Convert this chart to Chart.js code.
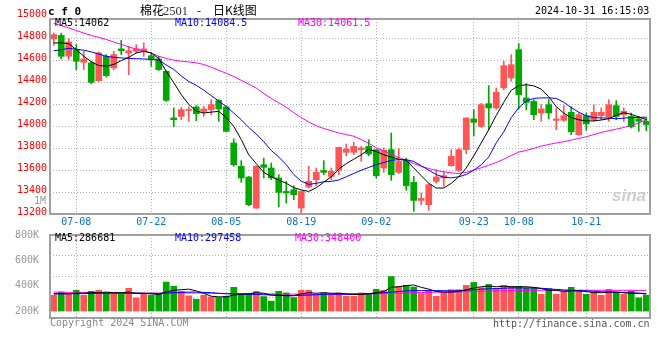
<!DOCTYPE html>
<html><head><meta charset="utf-8">
<script src="https://cdn.jsdelivr.net/npm/chart.js@4/dist/chart.umd.min.js"></script>
<style>
html,body{margin:0;padding:0;background:#fff;}
#wrap{position:relative;width:660px;height:360px;overflow:hidden;font-family:"DejaVu Sans Mono",monospace;font-size:10px;}
canvas{position:absolute;left:0;}
.t{position:absolute;white-space:pre;line-height:12px;}
.cj{font-family:'Noto Sans CJK SC',sans-serif;font-size:12px;line-height:14px;color:#000;top:3px;}
</style></head><body>
<div id="wrap">
<canvas id="price" width="660" height="226" style="top:0"></canvas>
<canvas id="vol" width="660" height="108" style="top:226px"></canvas>
<div class="t" style="left:48px;top:6px;font-weight:bold;font-size:11px;color:#000">c f 0</div>
<div class="t cj" style="left:140px">棉花</div>
<div class="t" style="left:163px;top:4px;font-family:'Liberation Serif',serif;font-size:12.5px;line-height:14px;color:#333">2501</div>
<div class="t cj" style="left:197px">-</div>
<div class="t cj" style="left:213px">日K线图</div>
<div class="t" style="left:535px;top:5px;color:#000">2024-10-31 16:15:03</div>
<div class="t" style="left:55px;top:17px;color:#000">MA5:14062</div>
<div class="t" style="left:175px;top:17px;color:#0000ff">MA10:14084.5</div>
<div class="t" style="left:298px;top:17px;color:#ff00ff">MA30:14061.5</div>
<div class="t" style="left:34px;top:195px;color:#999">1M</div>
<div class="t" style="left:612px;top:186px;font-family:'Liberation Sans',sans-serif;font-style:italic;font-weight:bold;font-size:17px;line-height:20px;color:rgba(190,190,190,0.75)">sina</div>
<div class="t" style="left:55px;top:232px;color:#000">MA5:286681</div>
<div class="t" style="left:175px;top:232px;color:#0000ff">MA10:297458</div>
<div class="t" style="left:295px;top:232px;color:#ff00ff">MA30:348400</div>
<div class="t" style="left:50px;top:317px;color:#888">Copyright 2024 SINA.COM</div>
<div class="t" style="left:493px;top:318px;color:#555">http://finance.sina.com.cn</div>
</div>
<script>
// ---- data ----
const dates = ['07-03','07-04','07-05','07-08','07-09','07-10','07-11','07-12','07-15','07-16','07-17','07-18','07-19','07-22','07-23','07-24','07-25','07-26','07-29','07-30','07-31',
'08-01','08-02','08-05','08-06','08-07','08-08','08-09','08-12','08-13','08-14','08-15','08-16','08-19','08-20','08-21','08-22','08-23','08-26','08-27','08-28','08-29','08-30',
'09-02','09-03','09-04','09-05','09-06','09-09','09-10','09-11','09-12','09-13','09-18','09-19','09-20','09-23','09-24','09-25','09-26','09-27','09-30',
'10-08','10-09','10-10','10-11','10-14','10-15','10-16','10-17','10-18','10-21','10-22','10-23','10-24','10-25','10-28','10-29','10-30','10-31'];
const xTickLabels = ['07-08','07-22','08-05','08-19','09-02','09-23','10-08','10-21'];
const priceTicks = [15000,14800,14600,14400,14200,14000,13800,13600,13400,13200];
const volTickValues = [200,400,600,800];
const volTickLabels = ['200K','400K','600K','800K'];

const opens = [14798,14830,14640,14700,14585,14579,14417,14639,14533,14707,
14670,14685,14685,14645,14615,14502,14077,14091,14145,14177,
14137,14153,14235,14177,13848,13635,13538,13254,13650,13620,
13529,13406,13422,13254,13447,13513,13598,13543,13600,13763,
13763,13787,13817,13787,13620,13787,13580,13687,13489,13324,
13285,13498,13529,13641,13598,13787,14068,14000,14207,14168,
14351,14442,14700,14259,14228,14122,14198,14055,14055,14128,
13924,14098,14061,14098,14086,14189,14107,14091,14068,14046];
const highs = [14853,14850,14800,14746,14685,14594,14680,14655,14685,14785,
14730,14746,14762,14670,14639,14509,14168,14174,14177,14189,
14183,14244,14244,14190,13885,13687,13543,13640,13711,13666,
13559,13498,13458,13410,13635,13620,13687,13620,13810,13839,
13854,13817,13878,13787,13803,13939,13800,13711,13543,13392,
13477,13604,13589,13787,13803,14077,14153,14210,14372,14351,
14594,14655,14755,14390,14244,14198,14244,14168,14189,14180,
14122,14122,14198,14168,14244,14235,14168,14122,14091,14080];
const lows = [14740,14615,14610,14518,14518,14390,14411,14451,14518,14655,
14472,14670,14639,14548,14511,14228,13995,14061,14046,14052,
14091,14107,14046,13950,13635,13489,13276,13250,13529,13513,
13266,13300,13331,13200,13437,13458,13559,13513,13560,13732,
13742,13680,13731,13529,13580,13507,13570,13416,13224,13285,
13233,13483,13452,13635,13589,13751,13915,13990,13970,14153,
14335,14411,14159,14150,14061,14046,14068,13970,14046,13925,
13918,13965,14046,14061,14046,14061,14046,13985,13954,13960];
const closes = [14837,14640,14770,14594,14615,14402,14670,14463,14655,14691,
14691,14707,14707,14609,14518,14237,14061,14153,14153,14116,
14159,14198,14159,13954,13650,13529,13285,13635,13626,13529,
13397,13392,13376,13406,13498,13580,13580,13589,13808,13793,
13817,13803,13748,13550,13781,13559,13680,13458,13324,13342,
13468,13538,13550,13726,13787,14077,14037,14198,14168,14311,
14554,14563,14289,14219,14107,14159,14122,14068,14098,13950,
14107,14022,14128,14128,14198,14091,14137,13995,14046,14016];

const ma5 = [14762,14762,14755,14700,14640,14590,14555,14550,14565,14600,
14630,14670,14685,14670,14620,14500,14400,14290,14200,14140,
14122,14130,14137,14080,14000,13880,13740,13660,13580,13540,
13510,13480,13440,13420,13406,13440,13490,13540,13610,13660,
13700,13740,13790,13770,13740,13720,13700,13690,13620,13550,
13480,13437,13437,13480,13540,13620,13730,13850,13970,14100,
14220,14330,14370,14380,14370,14340,14270,14180,14120,14080,
14060,14050,14050,14058,14070,14100,14125,14110,14085,14062];
const ma10 = [14690,14700,14712,14705,14695,14680,14660,14640,14630,14625,
14620,14618,14615,14612,14605,14560,14520,14460,14410,14375,
14330,14280,14230,14180,14122,14060,13990,13930,13860,13780,
13720,13650,13560,13500,13470,13480,13495,13498,13510,13540,
13570,13600,13625,13650,13670,13690,13696,13696,13680,13640,
13600,13560,13535,13530,13540,13560,13600,13650,13720,13850,
13950,14080,14170,14230,14255,14260,14260,14255,14220,14170,
14130,14095,14080,14077,14075,14070,14075,14080,14082,14084];
const ma30 = [14940,14920,14898,14875,14852,14830,14812,14793,14770,14748,
14725,14705,14688,14670,14640,14620,14605,14594,14588,14580,
14565,14540,14512,14485,14455,14420,14385,14350,14300,14255,
14215,14175,14125,14080,14040,14005,13980,13960,13940,13925,
13910,13880,13845,13805,13775,13745,13715,13690,13660,13635,
13615,13598,13585,13575,13570,13580,13600,13622,13645,13670,
13700,13735,13765,13780,13800,13820,13835,13848,13860,13875,
13890,13905,13925,13945,13960,13975,13990,14010,14030,14061];

// volume in thousand lots
const volumes = [267,322,283,350,267,333,350,306,283,283,
383,222,283,267,283,489,417,333,256,200,
267,239,228,250,400,283,300,333,244,167,
333,306,228,350,350,267,306,289,306,250,
250,306,283,367,350,583,417,433,406,294,
350,250,322,361,361,433,483,394,450,378,
433,417,417,389,389,283,378,283,322,400,
339,283,322,267,367,322,283,339,222,267];
const volMa5 = [290,295,290,300,300,310,310,320,310,310,
320,300,300,290,280,320,350,360,370,340,
300,250,240,240,270,280,290,310,300,270,
270,260,260,290,310,300,310,300,300,290,
280,280,290,310,330,400,410,430,440,400,
370,330,320,320,330,360,390,410,420,410,
420,410,410,410,400,380,350,350,330,340,
340,330,310,310,320,320,310,300,300,287];
const volMa10 = [290,290,295,295,295,300,300,300,300,300,
300,300,300,300,300,305,310,315,320,320,
315,310,300,290,290,290,285,280,275,270,
265,260,260,265,270,275,280,285,285,285,
290,290,295,300,310,320,330,340,345,345,
345,345,345,340,345,350,360,370,375,380,
385,390,390,390,390,385,375,365,355,350,
345,340,335,325,320,315,310,305,300,297];
const volMa30 = [320,318,316,315,314,312,310,308,306,305,
304,303,302,301,300,302,304,305,305,304,
302,300,298,296,295,294,293,292,290,288,
287,286,285,284,283,282,282,282,283,284,
285,287,289,291,294,298,302,306,310,313,
316,318,320,322,325,328,331,334,337,340,
342,344,346,348,350,351,352,352,352,352,
352,351,351,350,350,349,349,349,348,348];

// ---- build ----
const UP = '#ff5555', DOWN = '#00a800';
const candleColors = opens.map((o, i) => closes[i] >= o ? UP : DOWN);
const wicks = lows.map((l, i) => [l, highs[i]]);
const bodies = opens.map((o, i) => [o, closes[i]]);
const FONT = {family: "'DejaVu Sans Mono', monospace", size: 10};
const GRID = '#b0b0b0';

const frame = {
  id: 'frame',
  afterDatasetsDraw(chart) {
    const {ctx, chartArea: a} = chart;
    ctx.save();
    ctx.strokeStyle = '#a0a0a0';
    ctx.lineWidth = 2;
    ctx.strokeRect(a.left, a.top, a.right - a.left, a.bottom - a.top);
    ctx.restore();
  }
};
const filterDateTicks = s => { s.ticks = s.ticks.filter(t => xTickLabels.includes(dates[t.value])); };
const lineDs = (data, color, axis) => ({type: 'line', data, borderColor: color, borderWidth: 1, pointRadius: 0, tension: 0, order: 0, yAxisID: axis});

new Chart(document.getElementById('price'), {
  type: 'bar',
  data: {
    labels: dates,
    datasets: [
      lineDs(ma5, '#000000', 'y'),
      lineDs(ma10, '#0000ff', 'y'),
      lineDs(ma30, '#ff00ff', 'y'),
      {data: bodies, backgroundColor: candleColors, barThickness: 6, minBarLength: 1, grouped: false, order: 1, borderWidth: 0},
      {data: wicks, backgroundColor: candleColors, barThickness: 1, grouped: false, order: 2, borderWidth: 0}
    ]
  },
  options: {
    responsive: false, animation: false, devicePixelRatio: 1,
    layout: {padding: {left: 0, right: 10, top: 19, bottom: 0}},
    plugins: {legend: {display: false}, tooltip: {enabled: false}},
    scales: {
      x: {
        offset: true,
        grid: {offset: false, color: GRID, drawTicks: false},
        border: {display: false, dash: [1, 2]},
        ticks: {autoSkip: false, maxRotation: 0, color: '#0a74c8', font: FONT, padding: 2, callback: v => dates[v]},
        afterBuildTicks: filterDateTicks,
        afterFit: s => { s.height = 12; }
      },
      y: {
        position: 'left', min: 13200, max: 14980,
        afterBuildTicks: s => { s.ticks = priceTicks.map(v => ({value: v})); },
        afterFit: s => { s.width = 50; },
        grid: {drawTicks: false, color: c => (c.tick && c.tick.value > 13200 && c.tick.value < 14980) ? GRID : 'rgba(0,0,0,0)'},
        border: {display: false, dash: [1, 2]},
        ticks: {color: '#ff0000', padding: 3, labelOffset: -2, font: FONT, callback: v => String(v)}
      }
    }
  },
  plugins: [frame]
});

new Chart(document.getElementById('vol'), {
  type: 'bar',
  data: {
    labels: dates,
    datasets: [
      lineDs(volMa5, '#000000', 'y'),
      lineDs(volMa10, '#0000ff', 'y'),
      lineDs(volMa30, '#ff00ff', 'y'),
      {data: volumes, backgroundColor: candleColors, barThickness: 6, order: 1, borderWidth: 0, yAxisID: 'y'}
    ]
  },
  options: {
    responsive: false, animation: false, devicePixelRatio: 1,
    layout: {padding: {left: 0, right: 10, top: 8, bottom: 16}},
    plugins: {legend: {display: false}, tooltip: {enabled: false}},
    scales: {
      x: {
        offset: true,
        grid: {offset: false, color: GRID, drawTicks: false},
        border: {display: false, dash: [1, 2]},
        ticks: {display: false},
        afterBuildTicks: filterDateTicks,
        afterFit: s => { s.height = 0; }
      },
      yl: {
        position: 'left', min: 145, max: 800, weight: 1,
        afterBuildTicks: s => { s.ticks = volTickValues.map(v => ({value: v})); },
        afterFit: s => { s.width = 50; },
        grid: {display: false},
        border: {display: false},
        ticks: {color: '#999999', padding: 3, font: FONT, callback: (v, i) => volTickLabels[i]}
      },
      y: {
        position: 'left', min: -117, max: 1283, weight: 0,
        afterBuildTicks: s => { const st = (s.max - s.min) / 4; s.ticks = [1, 2, 3].map(k => ({value: s.min + k * st})); },
        afterFit: s => { s.width = 0; },
        grid: {drawTicks: false, color: GRID},
        border: {display: false, dash: [1, 2]},
        ticks: {display: false}
      }
    }
  },
  plugins: [frame]
});
</script>
</body></html>
